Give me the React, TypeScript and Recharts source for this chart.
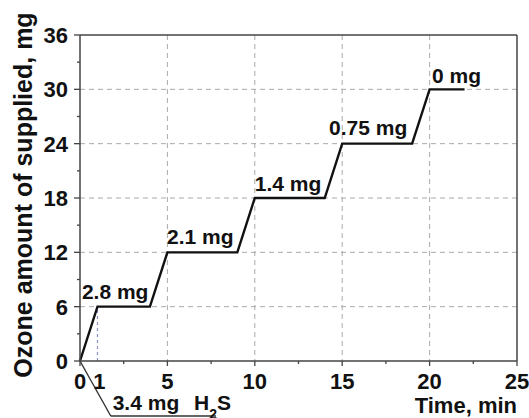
import { LineChart, Line, XAxis, YAxis, CartesianGrid, ReferenceLine, ReferenceDot } from "recharts";

const timeMin = [0, 1, 4, 5, 9, 10, 14, 15, 19, 20, 22];
const ozoneMg = [0, 6, 6, 12, 12, 18, 18, 24, 24, 30, 30];

const xMajorTicks = [0, 5, 10, 15, 20, 25];
const xMinorTicks = [2.5, 7.5, 12.5, 17.5, 22.5];
const xExtraTicks = [1];
const yMajorTicks = [0, 6, 12, 18, 24, 30, 36];
const yMinorTicks = [3, 9, 15, 21, 27, 33];

const doseLabels = ["2.8 mg", "2.1 mg", "1.4 mg", "0.75 mg", "0 mg"];
const doseLabelX = [0.11, 4.98, 10.0, 14.25, 20.14];
const doseLabelY = [6.84, 12.9, 18.8, 25.0, 30.7];

// H2S leader line (goes below the plot)
const h2sLeaderX = [0, 1.76, 7.78];
const h2sLeaderY = [0, -6.07, -6.07];
const h2sAmount = "3.4 mg";
const h2sAmountPos = { x: 1.87, y: -5.4 };
const h2sFormulaPos = { x: 6.52, y: -5.4 };

const data = timeMin.map((t, i) => ({ t, v: ozoneMg[i] }));

const FONT = "'Liberation Sans', Arial, sans-serif";
const AXIS = "#444";

function XTick({ x, y, payload }: any) {
  const v = payload.value;
  if (xMinorTicks.includes(v)) {
    return <line x1={x} y1={y} x2={x} y2={y + 3} stroke={AXIS} strokeWidth={1.3} />;
  }
  const major = xMajorTicks.includes(v);
  return (
    <g>
      {major && <line x1={x} y1={y} x2={x} y2={y + 5} stroke={AXIS} strokeWidth={1.3} />}
      <text x={x + (major ? 0 : 2)} y={y + 28} textAnchor="middle" fontFamily={FONT} fontWeight="bold" fontSize={22} fill="#111">
        {v}
      </text>
    </g>
  );
}

function YTick({ x, y, payload }: any) {
  const v = payload.value;
  if (yMinorTicks.includes(v)) {
    return <line x1={x} y1={y} x2={x - 3} y2={y} stroke={AXIS} strokeWidth={1.3} />;
  }
  return (
    <g>
      <line x1={x} y1={y} x2={x - 6} y2={y} stroke={AXIS} strokeWidth={1.3} />
      <text x={x - 12} y={y + 8} textAnchor="end" fontFamily={FONT} fontWeight="bold" fontSize={22} fill="#111">
        {v}
      </text>
    </g>
  );
}

function DoseText({ viewBox, text }: any) {
  return (
    <text x={viewBox.x + viewBox.width / 2} y={viewBox.y + viewBox.height / 2} fontFamily={FONT} fontWeight="bold" fontSize={21} fill="#111">
      {text}
    </text>
  );
}

function H2SText({ viewBox }: any) {
  return (
    <text x={viewBox.x + viewBox.width / 2} y={viewBox.y + viewBox.height / 2} fontFamily={FONT} fontWeight="bold" fontSize={21} fill="#111">
      H<tspan dy={9} fontSize={14}>2</tspan><tspan dy={-9}>S</tspan>
    </text>
  );
}

export default function App() {
  const xTicks = [...xMajorTicks, ...xExtraTicks, ...xMinorTicks].sort((a, b) => a - b);
  const yTicks = [...yMajorTicks, ...yMinorTicks].sort((a, b) => a - b);
  return (
    <div style={{ position: "absolute", left: 0, top: 0, background: "#fff" }}>
      <LineChart width={529} height={418} data={data} margin={{ top: 35, right: 12, bottom: 0, left: 0 }}>
        <CartesianGrid
          stroke="#aaa"
          strokeDasharray="5 4"
          horizontalValues={[6, 12, 18, 24, 30]}
          verticalValues={[5, 10, 15, 20]}
        />
        <XAxis
          dataKey="t"
          type="number"
          domain={[0, 25]}
          ticks={xTicks}
          interval={0}
          height={57}
          tickSize={0}
          tickMargin={0}
          tickLine={false}
          tick={<XTick />}
          axisLine={{ stroke: AXIS, strokeWidth: 1.5 }}
          label={{
            content: ({ viewBox }: any) => (
              <text x={viewBox.x + viewBox.width} y={viewBox.y + 52} textAnchor="end" fontFamily={FONT} fontWeight="bold" fontSize={22} fill="#111">
                Time, min
              </text>
            ),
          }}
        />
        <YAxis
          type="number"
          domain={[0, 36]}
          ticks={yTicks}
          interval={0}
          width={80}
          tickSize={0}
          tickMargin={0}
          tickLine={false}
          tick={<YTick />}
          axisLine={{ stroke: AXIS, strokeWidth: 1.5 }}
          label={{
            content: ({ viewBox }: any) => (
              <text
                transform={`translate(${viewBox.x + 32},${viewBox.y + viewBox.height / 2 - 3}) rotate(-90)`}
                textAnchor="middle"
                fontFamily={FONT}
                fontWeight="bold"
                fontSize={25}
                fill="#111"
              >
                Ozone amount of supplied, mg
              </text>
            ),
          }}
        />
        <ReferenceLine y={36} stroke={AXIS} strokeWidth={1.5} />
        <ReferenceLine x={25} stroke={AXIS} strokeWidth={1.5} />
        <ReferenceLine
          segment={[{ x: timeMin[1], y: 0 }, { x: timeMin[1], y: ozoneMg[1] }]}
          stroke="#8a8fc4"
          strokeDasharray="3 3"
          strokeWidth={1.2}
        />
        <Line dataKey="v" stroke="#111" strokeWidth={2.4} dot={false} isAnimationActive={false} type="linear" />
        {doseLabels.map((t, i) => (
          <ReferenceDot key={t} x={doseLabelX[i]} y={doseLabelY[i]} r={0} fill="none" stroke="none" ifOverflow="visible" label={<DoseText text={t} />} />
        ))}
        <ReferenceDot x={h2sAmountPos.x} y={h2sAmountPos.y} r={0} fill="none" stroke="none" ifOverflow="visible" label={<DoseText text={h2sAmount} />} />
        <ReferenceDot x={h2sFormulaPos.x} y={h2sFormulaPos.y} r={0} fill="none" stroke="none" ifOverflow="visible" label={<H2SText />} />
        {h2sLeaderX.slice(1).map((x, i) => (
          <ReferenceLine
            key={"h" + i}
            ifOverflow="visible"
            segment={[{ x: h2sLeaderX[i], y: h2sLeaderY[i] }, { x, y: h2sLeaderY[i + 1] }]}
            stroke="#333"
            strokeWidth={1.4}
          />
        ))}
      </LineChart>
    </div>
  );
}
